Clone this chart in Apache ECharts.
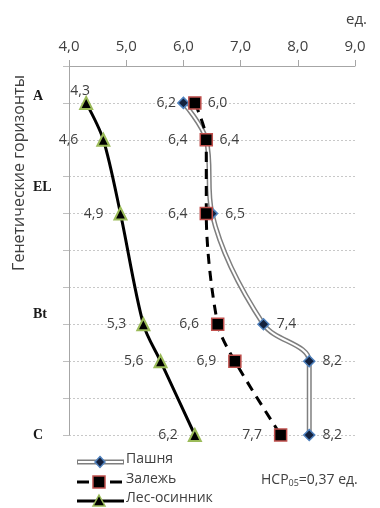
<!DOCTYPE html>
<html>
<head>
<meta charset="utf-8">
<script src="https://cdn.jsdelivr.net/npm/echarts@6/dist/echarts.min.js"></script>
<style>
  html, body { margin: 0; padding: 0; background: #fff; }
  #chart { width: 380px; height: 508px; }
</style>
</head>
<body>
<div id="chart"></div>
<script>
// Depth levels of the sampled layers (top of profile = 0)
const depthLevels = [1, 2, 4, 7, 8, 10];

// Measured values, units
const pashnya = [6.0, 6.4, 6.5, 7.4, 8.2, 8.2];
const zalezh  = [6.2, 6.4, 6.4, 6.6, 6.9, 7.7];
const les     = [4.3, 4.6, 4.9, 5.3, 5.6, 6.2];

const seriesNames = ['Пашня', 'Залежь', 'Лес-осинник'];

// Genetic horizon names and the depth level each one is written at
const horizonNames  = ['A', 'EL', 'Bt', 'C'];
const horizonLevels = [0.84, 3.32, 6.75, 10.05];

const xMin = 4, xMax = 9, xStep = 1;
const yMin = 0, yMax = 10, yStep = 1;

const TEXT = '#404040';
const FONT = '"Open Sans", "Noto Sans", sans-serif';

const fmt = v => v.toFixed(1).replace('.', ',');
const pairs = vals => vals.map((v, i) => [v, depthLevels[i]]);

const chart = echarts.init(document.getElementById('chart'), null, { renderer: 'canvas' });

// Data items with optional per-point label adjustments
function labelled(vals, tweaks) {
  return vals.map((v, i) => {
    const item = { value: [v, depthLevels[i]] };
    if (tweaks && tweaks[i]) item.label = tweaks[i];
    return item;
  });
}

const baseLabel = {
  show: true,
  color: TEXT,
  fontFamily: FONT,
  fontSize: 14,
  formatter: p => fmt(p.value[0])
};

const option = {
  animation: false,
  grid: { left: 69, right: 25, top: 66, bottom: 73 },
  xAxis: {
    type: 'value',
    position: 'top',
    min: xMin, max: xMax, interval: xStep,
    axisLine: { show: true, lineStyle: { color: '#a6a6a6', width: 1 } },
    axisTick: { show: true, inside: false, length: 6, lineStyle: { color: '#a6a6a6' } },
    axisLabel: { color: TEXT, fontFamily: FONT, fontSize: 15, margin: 12, formatter: v => fmt(v) },
    splitLine: { show: false }
  },
  yAxis: {
    type: 'value',
    inverse: true,
    min: yMin, max: yMax, interval: yStep,
    axisLine: { show: true, lineStyle: { color: '#a6a6a6', width: 1 } },
    axisTick: { show: true, inside: false, length: 6, lineStyle: { color: '#bfbfbf' } },
    axisLabel: { show: false },
    splitLine: { show: true, lineStyle: { color: '#c8c8c8', type: [2, 2], width: 1 } }
  },
  series: [
    {
      // outer stroke of the double line
      name: seriesNames[0],
      type: 'line',
      data: pairs(pashnya),
      smooth: 0.35,
      showSymbol: false,
      silent: true,
      z: 2,
      lineStyle: { color: '#7f7f7f', width: 5 }
    },
    {
      name: seriesNames[0],
      type: 'line',
      data: labelled(pashnya, { 0: { distance: 18 } }),
      smooth: 0.35,
      z: 3,
      symbol: 'diamond',
      symbolSize: 11,
      lineStyle: { color: '#ffffff', width: 2 },
      itemStyle: { color: '#14213d', borderColor: '#4f81bd', borderWidth: 1.5 },
      label: Object.assign({}, baseLabel, { position: 'right', distance: 7 })
    },
    {
      name: seriesNames[1],
      type: 'line',
      data: labelled(zalezh),
      smooth: 0.3,
      z: 4,
      symbol: 'rect',
      symbolSize: 12,
      lineStyle: { color: '#000000', width: 3, type: [10, 7] },
      itemStyle: { color: '#000000', borderColor: '#c0504d', borderWidth: 1.5 },
      label: Object.assign({}, baseLabel, { position: 'left', distance: 12 })
    },
    {
      name: seriesNames[2],
      type: 'line',
      data: labelled(les, {
        0: { position: 'top', distance: 0, offset: [-6, 2] },
        1: { distance: 18 }
      }),
      smooth: 0.3,
      z: 5,
      symbol: 'triangle',
      symbolSize: 12,
      lineStyle: { color: '#000000', width: 3 },
      itemStyle: { color: '#000000', borderColor: '#9bbb59', borderWidth: 2 },
      label: Object.assign({}, baseLabel, { position: 'left', distance: 10 })
    }
  ]
};

chart.setOption(option);

// Horizon names beside the depth axis, positioned through the axis scale
const graphics = [];
horizonNames.forEach((name, i) => {
  const p = chart.convertToPixel({ gridIndex: 0 }, [xMin, horizonLevels[i]]);
  graphics.push({
    type: 'text',
    left: 33,
    top: p[1] - 8,
    style: { text: name, fill: '#1a1a1a', font: 'bold 14px "Liberation Serif", serif' }
  });
});

// Axis titles and the LSD note
graphics.push(
  {
    type: 'text',
    x: 19, y: 173,
    rotation: Math.PI / 2,
    style: {
      text: 'Генетические горизонты', fill: TEXT,
      font: '16px "Open Sans", sans-serif',
      align: 'center', verticalAlign: 'middle'
    }
  },
  {
    type: 'text',
    left: 346, top: 12,
    style: { text: 'ед.', fill: TEXT, font: '15px "Open Sans", sans-serif' }
  },
  {
    type: 'text',
    left: 261, top: 473,
    style: {
      text: 'НСР{s|05}=0,37 ед.',
      fill: TEXT,
      font: '14px "Open Sans", sans-serif',
      rich: { s: { fontSize: 9, fontFamily: FONT, verticalAlign: 'bottom', padding: [6, 0, 0, 0], fill: TEXT } }
    }
  }
);

// Legend drawn as small samples of each line style
const legendRows = [462, 482, 501];
const lx0 = 77, lx1 = 124, lxm = 100;
// Пашня: double line with diamond
graphics.push(
  { type: 'line', shape: { x1: lx0, y1: legendRows[0], x2: lx1, y2: legendRows[0] }, style: { stroke: '#7f7f7f', lineWidth: 5 } },
  { type: 'line', shape: { x1: lx0 + 1, y1: legendRows[0], x2: lx1 - 1, y2: legendRows[0] }, style: { stroke: '#ffffff', lineWidth: 2 } },
  { type: 'polygon', shape: { points: [[lxm, legendRows[0] - 5.5], [lxm + 5, legendRows[0]], [lxm, legendRows[0] + 5.5], [lxm - 5, legendRows[0]]] },
    style: { fill: '#14213d', stroke: '#4f81bd', lineWidth: 1.5 } }
);
// Залежь: dashes with square
graphics.push(
  { type: 'line', shape: { x1: lx0, y1: legendRows[1], x2: 89, y2: legendRows[1] }, style: { stroke: '#000', lineWidth: 3 } },
  { type: 'line', shape: { x1: 110, y1: legendRows[1], x2: 122, y2: legendRows[1] }, style: { stroke: '#000', lineWidth: 3 } },
  { type: 'rect', shape: { x: 93, y: legendRows[1] - 6, width: 12, height: 12 }, style: { fill: '#000', stroke: '#c0504d', lineWidth: 1.5 } }
);
// Лес-осинник: solid line with triangle
graphics.push(
  { type: 'line', shape: { x1: lx0, y1: legendRows[2], x2: lx1, y2: legendRows[2] }, style: { stroke: '#000', lineWidth: 3 } },
  { type: 'polygon', shape: { points: [[99, legendRows[2] - 6], [105, legendRows[2] + 5], [93, legendRows[2] + 5]] },
    style: { fill: '#000', stroke: '#9bbb59', lineWidth: 1.5 } }
);
seriesNames.forEach((name, i) => {
  graphics.push({
    type: 'text',
    left: 126, top: legendRows[i] - 10,
    style: { text: name, fill: TEXT, font: '14px "Open Sans", sans-serif' }
  });
});

chart.setOption({ graphic: graphics });
</script>
</body>
</html>
